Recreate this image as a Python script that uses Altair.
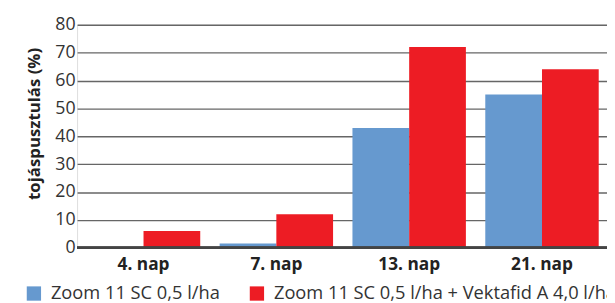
import altair as alt
import pandas as pd

days = ["4. nap", "7. nap", "13. nap", "21. nap"]
series_names = ["Zoom 11 SC 0,5 l/ha", "Zoom 11 SC 0,5 l/ha + Vektafid A 4,0 l/ha"]
zoom_vals = [0, 1.5, 43, 55]
zoom_vekt_vals = [6, 12, 72, 64]
colors = ["#6699CF", "#ED1C24"]
y_ticks = [0, 10, 20, 30, 40, 50, 60, 70, 80]

rows = []
for d, a, b in zip(days, zoom_vals, zoom_vekt_vals):
    rows.append({"nap": d, "kezeles": series_names[0], "ertek": a})
    rows.append({"nap": d, "kezeles": series_names[1], "ertek": b})
df = pd.DataFrame(rows)

FONT = "Open Sans"

base = alt.Chart(df)

bars = base.mark_bar(stroke=None).encode(
    x=alt.X("nap:N", sort=days,
            scale=alt.Scale(paddingInner=0.146, paddingOuter=0.0678, align=0.54),
            axis=alt.Axis(title=None, labelAngle=0, labelFontWeight="bold", labelFontSize=17.5,
                          labelColor="#222", labelFont=FONT, domain=False, ticks=False,
                          labelPadding=8)),
    xOffset=alt.XOffset("kezeles:N", sort=series_names,
                        scale=alt.Scale(paddingInner=0, paddingOuter=0)),
    y=alt.Y("ertek:Q", scale=alt.Scale(domain=[0, 80], nice=False),
            axis=alt.Axis(title="tojáspusztulás (%)", values=y_ticks, grid=True,
                          labelOverlap=False, tickCount=9,
                          gridColor="#666", gridWidth=1.5, domain=False, ticks=False,
                          labelFontSize=18, labelColor="#333", labelFont=FONT, labelPadding=2,
                          titleFont=FONT, titleFontSize=17, titleFontWeight="bold",
                          titleColor="#222", titleX=-43, titleY=100, titleAngle=-90,
                          titleAlign="center", titleBaseline="middle")),
    color=alt.Color("kezeles:N", sort=series_names,
                    scale=alt.Scale(domain=series_names, range=colors),
                    legend=alt.Legend(title=None, orient="none", direction="horizontal",
                                      legendX=-53, legendY=263, symbolType="square",
                                      symbolSize=210, symbolStrokeWidth=0,
                                      labelFontSize=18.5, labelColor="#333", labelFont=FONT,
                                      labelOffset=8, columnPadding=28, labelLimit=500)),
)

baseline = base.mark_rule(color="#444", strokeWidth=2).encode(y=alt.datum(0))

chart = alt.layer(bars, baseline).properties(
    width=537, height=226,
    padding={"left": 70, "top": 15, "right": 0, "bottom": 54},
    autosize=alt.AutoSizeParams(type="none"),
).configure_view(stroke=None).configure(font=FONT)

chart.save("out.html", embed_options={"renderer": "svg", "actions": False})
